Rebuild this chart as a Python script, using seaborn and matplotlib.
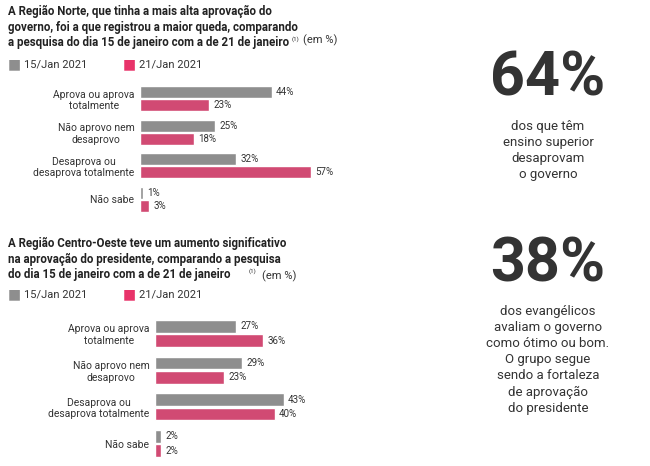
import pandas as pd
import matplotlib.pyplot as plt
import seaborn as sns

sns.set_style("white")
plt.rcParams['font.family'] = ['Roboto', 'DejaVu Sans']

categories_top = ["Aprova ou aprova\ntotalmente", "Não aprovo nem\ndesaprovo",
                  "Desaprova ou\ndesaprova totalmente", "Não sabe"]
norte_15 = [44, 25, 32, 1]
norte_21 = [23, 18, 57, 3]

categories_bottom = ["Aprova ou aprova\ntotalmente", "Não aprovo nem\ndesaprovo",
                     "Desaprova ou\ndesaprova totalmente", "Não sabe"]
co_15 = [27, 29, 43, 2]
co_21 = [36, 23, 40, 2]

series = ["15/Jan 2021", "21/Jan 2021"]
GRAY = "#8e8e8e"
PINK = "#e8336a"

W, H = 650, 466
fig = plt.figure(figsize=(6.5, 4.66), dpi=100)


def px(x, y):
    return x / W, 1 - y / H


def bar_panel(left, top, bottom, cats, a, b):
    # 3 px per percent point
    width = 200
    ax = fig.add_axes([left / W, 1 - bottom / H, width / W, (bottom - top) / H])
    df = pd.DataFrame({
        "cat": cats * 2,
        "val": a + b,
        "serie": [series[0]] * len(cats) + [series[1]] * len(cats),
    })
    sns.barplot(data=df, y="cat", x="val", hue="serie", orient="h",
                palette=[GRAY, PINK], width=0.78, gap=0.1, ax=ax, legend=False)
    ax.set_xlim(0, width / 3)
    for c in ax.containers:
        ax.bar_label(c, labels=[f"{int(v)}%" for v in c.datavalues],
                     padding=3, fontsize=7, color="#333333")
    ax.set_xlabel("")
    ax.set_ylabel("")
    ax.set_xticks([])
    ax.tick_params(axis="y", length=0, pad=4, labelsize=7.5)
    for lbl in ax.get_yticklabels():
        lbl.set_horizontalalignment("right")
        lbl.set_multialignment("center")
        lbl.set_color("#333333")
    sns.despine(ax=ax, left=True, bottom=True)
    return ax


def legend(y):
    fig.text(*px(8, y), "■", color=GRAY, fontsize=10, va="center")
    fig.text(*px(24, y), series[0], fontsize=8, va="center", color="#333333")
    fig.text(*px(123, y), "■", color=PINK, fontsize=10, va="center")
    fig.text(*px(139, y), series[1], fontsize=8, va="center", color="#333333")


# top block
fig.text(*px(8, 5), "A Região Norte, que tinha a mais alta aprovação do\n"
         "governo, foi a que registrou a maior queda, comparando\n"
         "a pesquisa do dia 15 de janeiro com a de 21 de janeiro",
         fontsize=8.3, fontweight="bold", va="top", linespacing=1.25, color="#222222")
fig.text(*px(292, 36), "(1)", fontsize=4.5, va="top")
fig.text(*px(303, 35), "(em %)", fontsize=8, va="top", color="#333333")
legend(64)
bar_panel(140, 82, 216, categories_top, norte_15, norte_21)

# bottom block
fig.text(*px(8, 237), "A Região Centro-Oeste teve um aumento significativo\n"
         "na aprovação do presidente, comparando a pesquisa\n"
         "do dia 15 de janeiro com a de 21 de janeiro",
         fontsize=8.3, fontweight="bold", va="top", linespacing=1.25, color="#222222")
fig.text(*px(249, 268), "(1)", fontsize=4.5, va="top")
fig.text(*px(262, 270), "(em %)", fontsize=8, va="top", color="#333333")
legend(294)
bar_panel(155, 315, 462, categories_bottom, co_15, co_21)

# right side highlights
fig.text(*px(548, 78), "64%", fontsize=44, fontweight="bold", ha="center",
         va="center", color="#333333")
fig.text(*px(548, 150), "dos que têm\nensino superior\ndesaprovam\no governo",
         fontsize=9.5, ha="center", va="center", linespacing=1.3, color="#333333")
fig.text(*px(548, 265), "38%", fontsize=44, fontweight="bold", ha="center",
         va="center", color="#333333")
fig.text(*px(548, 360), "dos evangélicos\navaliam o governo\ncomo ótimo ou bom.\n"
         "O grupo segue\nsendo a fortaleza\nde aprovação\ndo presidente",
         fontsize=9.5, ha="center", va="center", linespacing=1.3, color="#333333")

fig.savefig("out.png", dpi=100)
